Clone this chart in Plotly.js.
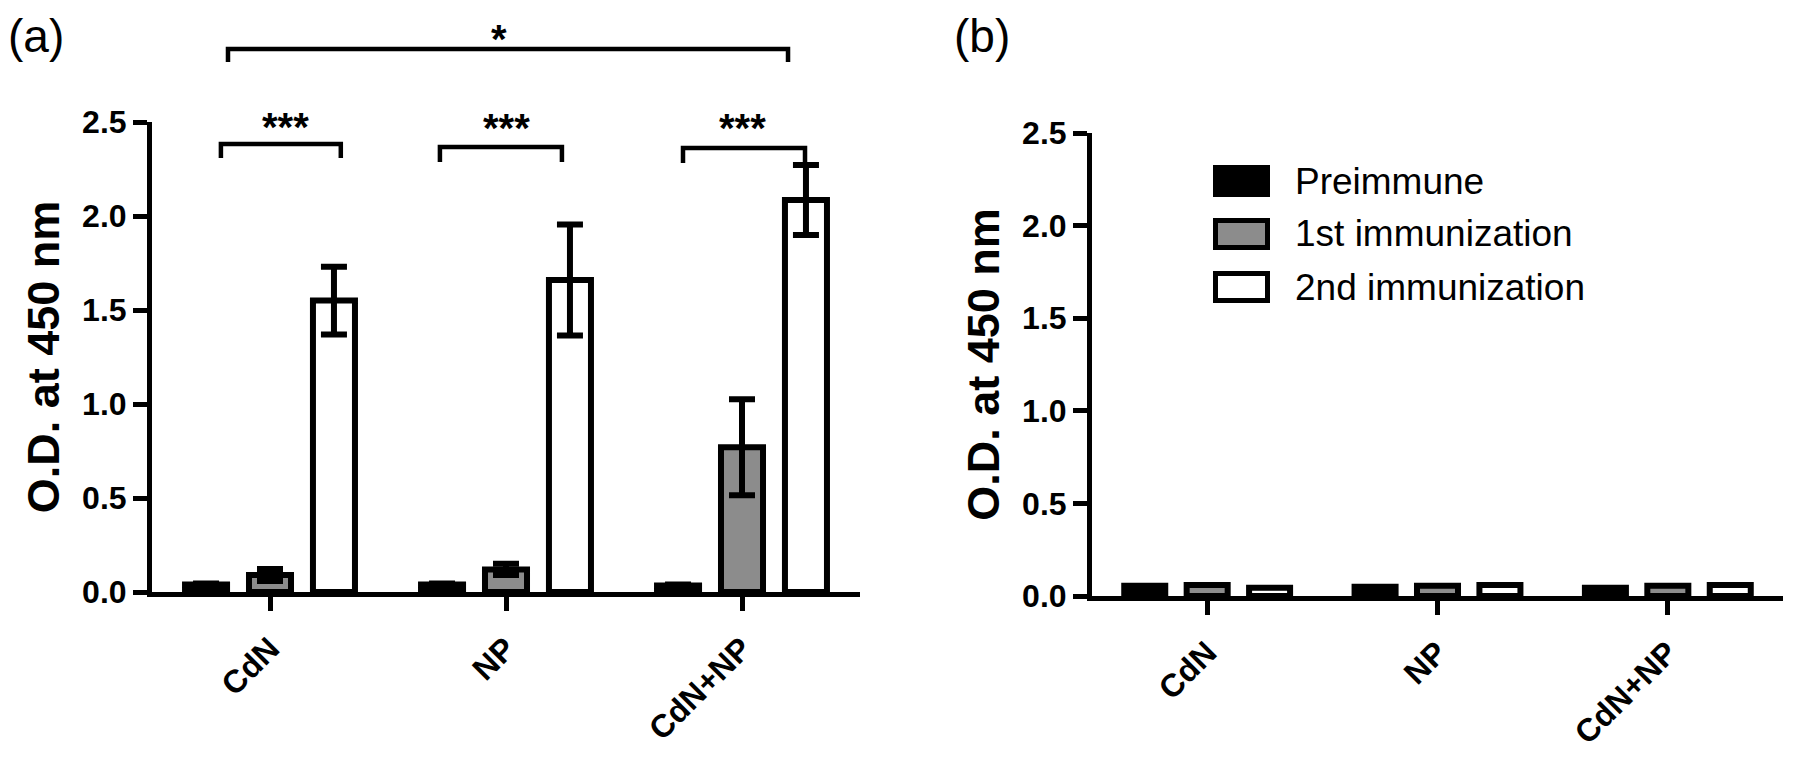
<!DOCTYPE html>
<html>
<head>
<meta charset="utf-8">
<script src="https://cdn.plot.ly/plotly-3.0.1.min.js"></script>
<style>
  html, body { margin: 0; padding: 0; background: #ffffff; }
  #chart { width: 1800px; height: 757px; }
</style>
</head>
<body>
<div id="chart"></div>
<script>
// ---------- data ----------
const categories = ['CdN', 'NP', 'CdN+NP'];
const seriesNames = ['Preimmune', '1st immunization', '2nd immunization'];
const seriesColors = ['#000000', '#8c8c8c', '#ffffff'];

// panel (a)
const aPre = [0.04, 0.04, 0.035];
const aPreErr = [0.005, 0.005, 0.005];
const aFirst = [0.09, 0.12, 0.77];
const aFirstErr = [0.032, 0.03, 0.255];
const aSecond = [1.55, 1.66, 2.085];
const aSecondErr = [0.18, 0.295, 0.186];

// panel (b)
const bPre = [0.055, 0.05, 0.045];
const bFirst = [0.06, 0.055, 0.055];
const bSecond = [0.045, 0.06, 0.06];

// significance brackets in panel (a): [left category pos, right category pos, label]
const bracketLabels = ['***', '***', '***', '*'];
const bracketLeft = [-0.208, 0.72, 1.75, -0.178];
const bracketRight = [0.30, 1.237, 2.267, 2.195];
const bracketLabelPos = [0.064, 1.0, 2.004, 0.97];

const yTickVals = [0, 0.5, 1.0, 1.5, 2.0, 2.5];

// ---------- layout helpers ----------
const W = 1800, H = 757;
const px = v => v / W;
const py = v => 1 - v / H;
const FONT = 'Liberation Sans, Arial, sans-serif';

function barTrace(name, vals, errs, color, xa, ya) {
  const t = {
    type: 'bar', name: name, x: categories, y: vals,
    xaxis: xa, yaxis: ya, showlegend: false,
    marker: { color: color, line: { color: '#000000', width: 6 } },
    hoverinfo: 'x+y+name'
  };
  if (errs) {
    t.error_y = { type: 'data', array: errs, visible: true, color: '#000000', thickness: 6, width: 13 };
  }
  return t;
}

const traces = [
  barTrace(seriesNames[0], aPre, aPreErr, seriesColors[0], 'x', 'y'),
  barTrace(seriesNames[1], aFirst, aFirstErr, seriesColors[1], 'x', 'y'),
  barTrace(seriesNames[2], aSecond, aSecondErr, seriesColors[2], 'x', 'y'),
  barTrace(seriesNames[0], bPre, null, seriesColors[0], 'x2', 'y2'),
  barTrace(seriesNames[1], bFirst, null, seriesColors[1], 'x2', 'y2'),
  barTrace(seriesNames[2], bSecond, null, seriesColors[2], 'x2', 'y2')
];

function xAxis(domain, anchor) {
  return {
    domain: domain, anchor: anchor, type: 'category',
    range: [-0.5, 2.5], fixedrange: true,
    showline: true, linecolor: '#000000', linewidth: 5,
    ticks: 'outside', ticklen: 14, tickwidth: 5, tickcolor: '#000000',
    tickangle: -45, showgrid: false, zeroline: false, ticklabelstandoff: 6,
    tickfont: { family: FONT, size: 32, color: '#000000', weight: 'bold' }
  };
}
function yAxis(domain, anchor) {
  return {
    domain: domain, anchor: anchor, range: [0, 2.5], fixedrange: true,
    tickvals: yTickVals, tickformat: '.1f',
    showline: true, linecolor: '#000000', linewidth: 5,
    ticks: 'outside', ticklen: 14, tickwidth: 5, tickcolor: '#000000',
    showgrid: false, zeroline: false,
    tickfont: { family: FONT, size: 32, color: '#000000', weight: 'bold' },
    title: { text: 'O.D. at 450 nm', standoff: 10,
             font: { family: FONT, size: 45, color: '#000000', weight: 'bold' } }
  };
}

const shapes = [];
const annotations = [];

// brackets (a)
const bracketLineY = [144, 147, 148, 49];
const bracketLegY = [158, 162, 163, 62];
const bracketTextY = [127, 128, 128, 39];
for (let i = 0; i < bracketLabels.length; i++) {
  shapes.push({
    type: 'path', xref: 'x', yref: 'paper',
    path: `M ${bracketLeft[i]},${py(bracketLegY[i])} L ${bracketLeft[i]},${py(bracketLineY[i])} L ${bracketRight[i]},${py(bracketLineY[i])} L ${bracketRight[i]},${py(bracketLegY[i])}`,
    line: { color: '#000000', width: 4.5 }
  });
  annotations.push({
    xref: 'x', yref: 'paper', x: bracketLabelPos[i], y: py(bracketTextY[i]),
    xanchor: 'center', yanchor: 'middle', showarrow: false,
    text: bracketLabels[i],
    font: { family: FONT, size: 40, color: '#000000', weight: 'bold' }
  });
}

// custom legend (panel b)
const legRowY = [181, 234, 287];
for (let i = 0; i < seriesNames.length; i++) {
  shapes.push({
    type: 'rect', xref: 'paper', yref: 'paper',
    x0: px(1215.5), x1: px(1267.5), y0: py(legRowY[i] + 13.5), y1: py(legRowY[i] - 13.5),
    fillcolor: seriesColors[i], line: { color: '#000000', width: 5 }
  });
  annotations.push({
    xref: 'paper', yref: 'paper', x: px(1293), y: py(legRowY[i]),
    xanchor: 'left', yanchor: 'middle', showarrow: false,
    text: seriesNames[i],
    font: { family: FONT, size: 37, color: '#000000' }
  });
}

// panel labels
annotations.push({ xref: 'paper', yref: 'paper', x: px(6), y: py(36), xanchor: 'left', yanchor: 'middle',
  showarrow: false, text: '(a)', font: { family: FONT, size: 46, color: '#000000' } });
annotations.push({ xref: 'paper', yref: 'paper', x: px(952), y: py(36), xanchor: 'left', yanchor: 'middle',
  showarrow: false, text: '(b)', font: { family: FONT, size: 46, color: '#000000' } });

const layout = {
  width: W, height: H,
  margin: { l: 0, r: 0, t: 0, b: 0 },
  paper_bgcolor: '#ffffff', plot_bgcolor: '#ffffff',
  barmode: 'group', bargap: 0.187, bargroupgap: 0.343,
  showlegend: false,
  xaxis: xAxis([px(152), px(860)], 'y'),
  yaxis: yAxis([py(592), py(122)], 'x'),
  xaxis2: xAxis([px(1092), px(1783)], 'y2'),
  yaxis2: yAxis([py(596), py(133)], 'x2'),
  shapes: shapes,
  annotations: annotations,
  font: { family: FONT, color: '#000000' }
};

Plotly.newPlot('chart', traces, layout, { displayModeBar: false, staticPlot: true });
</script>
</body>
</html>
